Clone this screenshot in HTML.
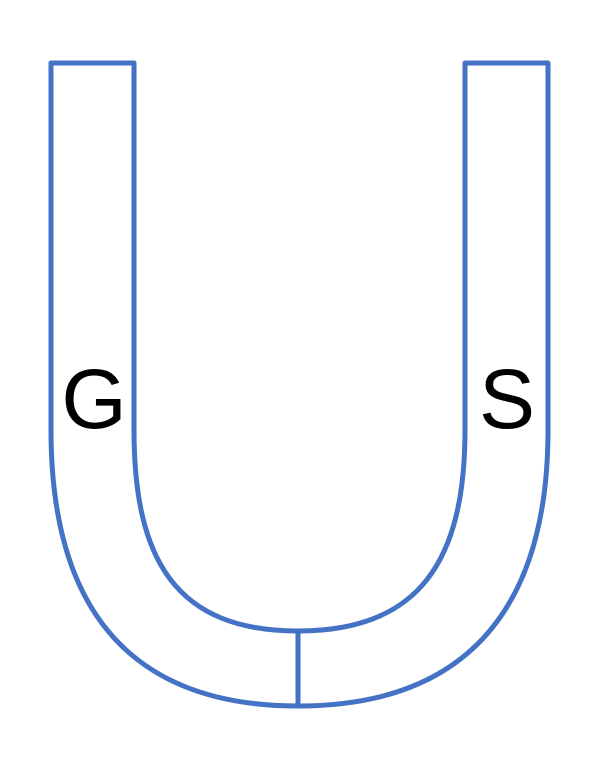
<!DOCTYPE html>
<html>
<head>
<meta charset="utf-8">
<style>
  html, body { margin: 0; padding: 0; background: #ffffff; }
  svg { display: block; }
  text { font-family: "Liberation Sans", "DejaVu Sans", sans-serif; }
</style>
</head>
<body>
<svg width="605" height="760" viewBox="0 0 605 760">
  <g fill="none" stroke="#4472C4" stroke-width="5" stroke-linejoin="round">
    <path
      d="M134,63 L51,63 L51,430 C51,620 140,706 298,706 C456,706 548,620 548,430 L548,63 L465,63 L465,430 C465,560 420,631 298,631 C176,631 134,560 134,430 Z"/>
    <line x1="298" y1="631" x2="298" y2="706"/>
  </g>
  <text x="94" y="428" font-size="84" text-anchor="middle" fill="#000">G</text>
  <text x="507" y="428" font-size="84" text-anchor="middle" fill="#000">S</text>
</svg>
</body>
</html>
